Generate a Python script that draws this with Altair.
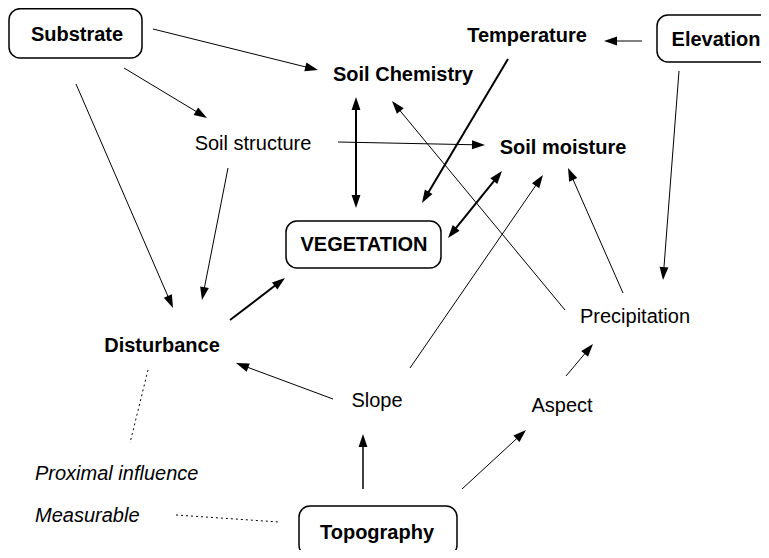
import math
import altair as alt
import pandas as pd

# ---- nodes (label, centre x, text baseline y) ----
node_labels = ["Substrate", "Temperature", "Elevation", "Soil Chemistry", "Soil structure",
               "Soil moisture", "VEGETATION", "Disturbance", "Precipitation", "Slope",
               "Aspect", "Topography"]
node_x = [77, 527, 716, 403, 253, 563, 364, 162, 635, 377, 562, 377]
node_y = [41, 42, 46, 81, 150, 154, 251, 352, 323, 407, 412, 539]
node_bold = [True, True, True, True, False, True, True, True, False, False, False, True]

# ---- rounded boxes ----
box_labels = ["Substrate", "Elevation", "VEGETATION", "Topography"]
box_x1 = [9, 657, 286, 299]
box_x2 = [142, 775, 441, 457]
box_y1 = [8.7, 15, 221, 506]
box_y2 = [58, 62, 268, 556]

# ---- legend notes ----
note_labels = ["Proximal influence", "Measurable"]
note_x = [35, 35]
note_y = [480, 522]

# ---- arrows (start -> end) ----
edge_x1 = [153, 124, 76, 228, 338, 356, 508, 448, 565, 410, 623, 679, 642, 230, 333, 363, 462, 566]
edge_y1 = [29, 68, 84, 168, 142, 97, 59, 238, 310, 368, 293, 71, 41, 320, 399, 489, 489, 376]
edge_x2 = [318, 207, 173, 202, 485, 356, 422, 502, 392, 543, 568, 663, 604, 285, 236, 363, 526, 593]
edge_y2 = [70, 118, 308, 300, 145, 208, 203, 171, 101, 175, 168, 280, 41, 278, 363, 434, 430, 344]
edge_both = [False, False, False, False, False, True, False, True, False, False, False, False,
             False, False, False, False, False, False]
edge_width = [1, 1, 1, 1, 1, 2, 2, 2, 1, 1, 1, 1, 1, 2, 1, 1.5, 1, 1]

# ---- dotted links ----
dot_x1 = [148, 176]
dot_y1 = [370, 515]
dot_x2 = [130, 279]
dot_y2 = [443, 522]

HEAD = 13  # arrowhead length in px

lines, heads = [], []
for x1, y1, x2, y2, both, w in zip(edge_x1, edge_y1, edge_x2, edge_y2, edge_both, edge_width):
    dx, dy = x2 - x1, y2 - y1
    L = math.hypot(dx, dy)
    ux, uy = dx / L, dy / L
    ang = math.degrees(math.atan2(dx, -dy)) % 360
    lx2, ly2 = x2 - ux * (HEAD - 3), y2 - uy * (HEAD - 3)
    lx1, ly1 = x1, y1
    heads.append({"x": x2, "y": y2, "a": ang})
    if both:
        lx1, ly1 = x1 + ux * (HEAD - 3), y1 + uy * (HEAD - 3)
        heads.append({"x": x1, "y": y1, "a": (ang + 180) % 360})
    lines.append({"x": lx1, "y": ly1, "x2": lx2, "y2": ly2, "w": w})

lines_df = pd.DataFrame(lines)
heads_df = pd.DataFrame(heads)
dots_df = pd.DataFrame({"x": dot_x1, "y": dot_y1, "x2": dot_x2, "y2": dot_y2})
boxes_df = pd.DataFrame({"label": box_labels, "x": box_x1, "x2": box_x2, "y": box_y1, "y2": box_y2})
nodes_df = pd.DataFrame({"label": node_labels, "x": node_x, "y": node_y, "bold": node_bold})
notes_df = pd.DataFrame({"label": note_labels, "x": note_x, "y": note_y})

XS = alt.Scale(domain=[8, 761], nice=False, zero=False)
YS = alt.Scale(domain=[8, 550], nice=False, zero=False, reverse=True)
X = alt.X("x:Q", scale=XS, axis=None)
Y = alt.Y("y:Q", scale=YS, axis=None)

boxes = alt.Chart(boxes_df).mark_rect(
    cornerRadius=11, fill="white", stroke="black", strokeWidth=1.5
).encode(x=X, x2="x2:Q", y=Y, y2="y2:Q")

rules = alt.Chart(lines_df).mark_rule(color="black").encode(
    x=X, x2="x2:Q", y=Y, y2="y2:Q", strokeWidth=alt.StrokeWidth("w:Q", scale=None)
)

dotted = alt.Chart(dots_df).mark_rule(color="black", strokeWidth=1, strokeDash=[2, 3]).encode(
    x=X, x2="x2:Q", y=Y, y2="y2:Q"
)

arrowheads = alt.Chart(heads_df).mark_point(
    shape="M0,0L-0.68,2L0.68,2Z", filled=True, color="black", opacity=1, strokeWidth=0,
    size=HEAD * HEAD
).encode(x=X, y=Y, angle=alt.Angle("a:Q", scale=None))

bold_text = alt.Chart(nodes_df[nodes_df["bold"]]).mark_text(
    font="Liberation Sans", fontSize=20, fontWeight="bold", align="center",
    baseline="alphabetic", color="black"
).encode(x=X, y=Y, text="label:N")

plain_text = alt.Chart(nodes_df[~nodes_df["bold"]]).mark_text(
    font="Liberation Sans", fontSize=20, align="center", baseline="alphabetic", color="black"
).encode(x=X, y=Y, text="label:N")

notes = alt.Chart(notes_df).mark_text(
    font="Liberation Sans", fontSize=20, fontStyle="italic", align="left",
    baseline="alphabetic", color="black"
).encode(x=X, y=Y, text="label:N")

chart = alt.layer(boxes, rules, dotted, arrowheads, bold_text, plain_text, notes).properties(
    width=753, height=542, padding=0, autosize="none", background="white"
).configure_view(stroke=None)

chart.save("out.html", embed_options={"renderer": "svg", "actions": False})
